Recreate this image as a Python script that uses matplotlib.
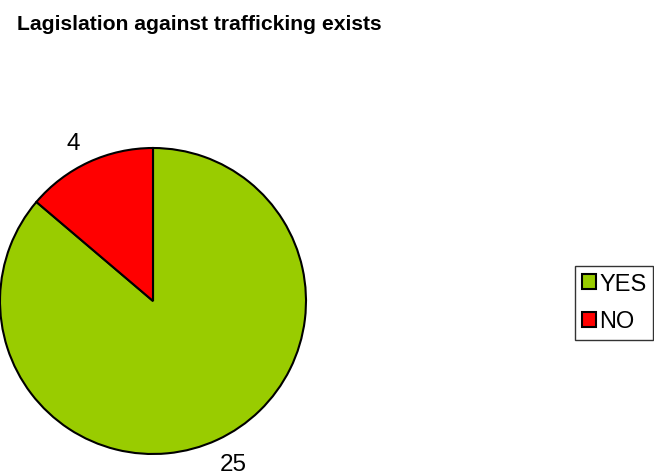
import numpy as np
import matplotlib.pyplot as plt
from matplotlib.patches import Patch

# data
categories = ['YES', 'NO']
values = [25, 4]
colors = ['#99CC00', '#FF0000']

W, H = 654, 477
plt.rcParams['font.family'] = ['Liberation Sans', 'DejaVu Sans']

fig = plt.figure(figsize=(W / 100, H / 100), dpi=100)

# pie axes: circle centre ~(153, 302) px, radius ~153 px
cx, cy, r = 153, 302, 153
ax = fig.add_axes([(cx - r) / W, (H - cy - r) / H, 2 * r / W, 2 * r / H])
wedges, texts = ax.pie(values, labels=[str(v) for v in values], colors=colors,
                       startangle=90, counterclock=False, labeldistance=1.17,
                       wedgeprops=dict(edgecolor='black', linewidth=1.5),
                       textprops=dict(fontsize=17.5, color='black'))
ax.set_xlim(-1, 1)
ax.set_ylim(-1, 1)
ax.set_aspect('equal')
# nudge labels slightly, like the original's placement
for w, t in zip(wedges, texts):
    ang = np.deg2rad((w.theta1 + w.theta2) / 2 + 1.7)
    t.set_position((1.17 * np.cos(ang), 1.17 * np.sin(ang)))
    t.set_ha('center')
    t.set_va('center_baseline')
for p in ax.patches:
    p.set_clip_on(False)

fig.text(17 / W, 1 - 25 / H, 'Lagislation against trafficking exists',
         fontsize=15.2, fontweight='bold', ha='left', va='center')

handles = [Patch(facecolor=c, edgecolor='black', linewidth=1.5) for c in colors]
leg = fig.legend(handles, categories, loc='upper left',
                 bbox_to_anchor=(575 / W, 1 - 267 / H),
                 fontsize=17, frameon=True, fancybox=False,
                 handlelength=0.6, handleheight=0.6, handletextpad=0.12,
                 labelspacing=0.65, borderpad=0.3, borderaxespad=0)
leg.get_frame().set_edgecolor('black')
leg.get_frame().set_linewidth(1.0)

fig.savefig('out.png', dpi=100)
